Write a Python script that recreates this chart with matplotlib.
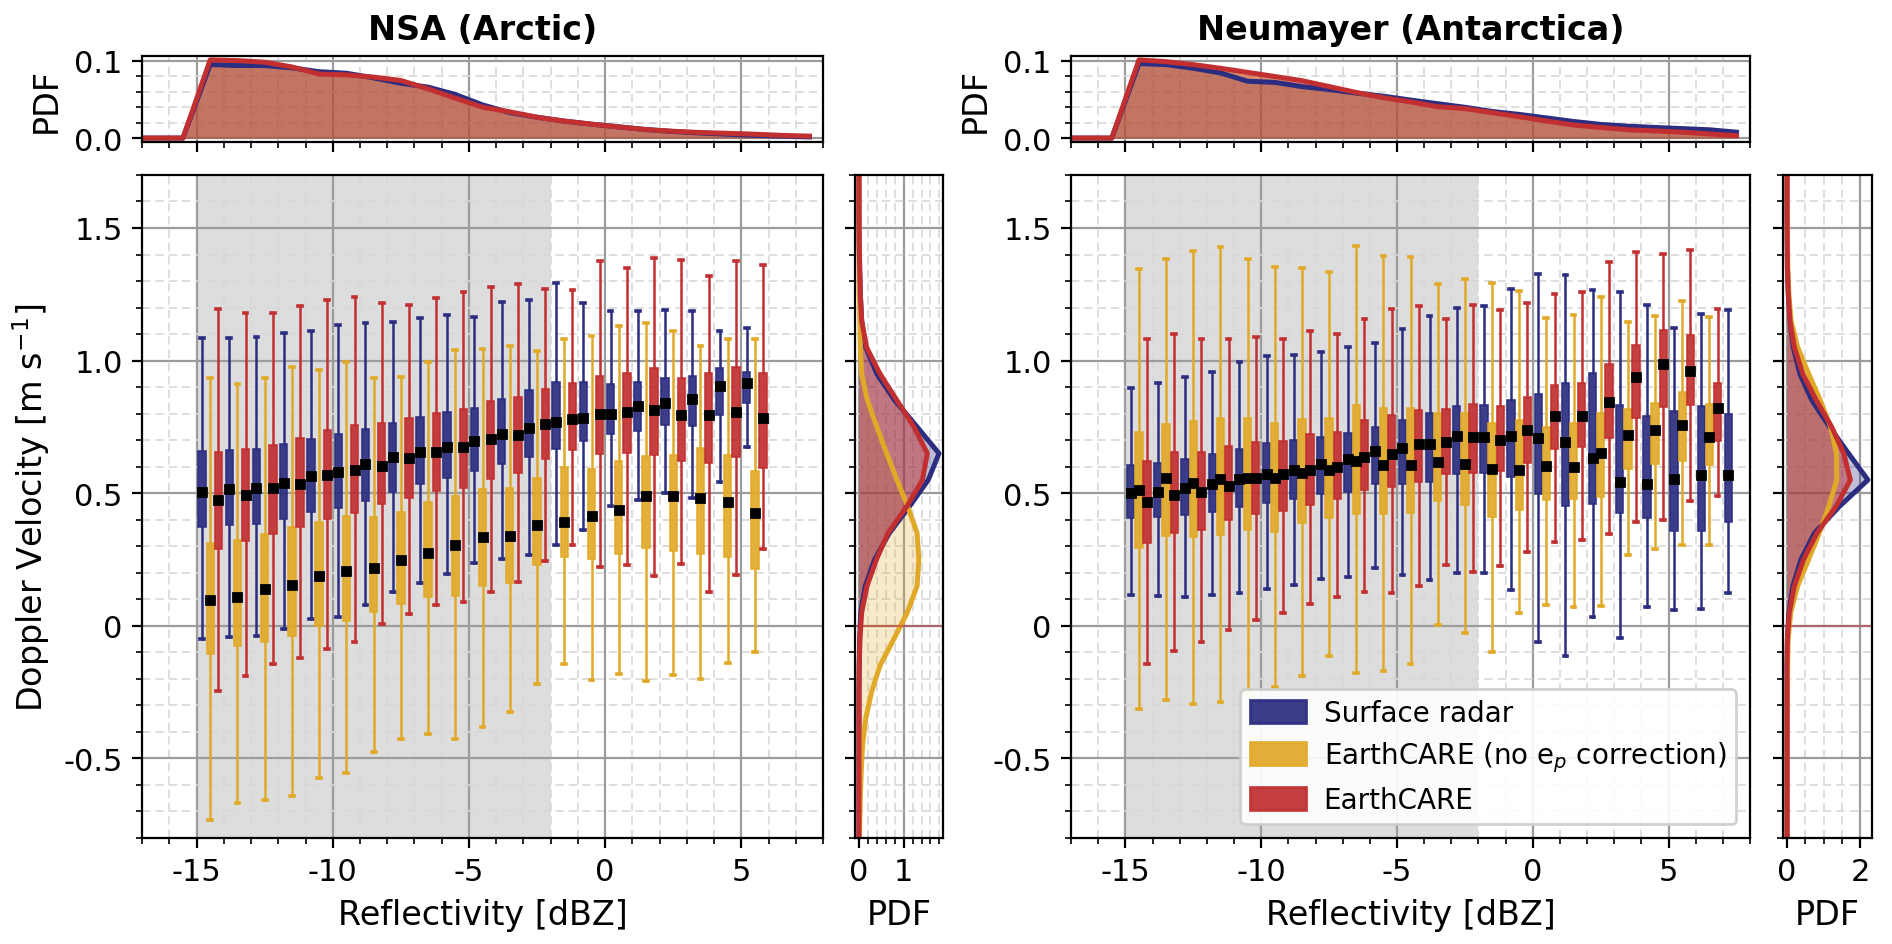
import numpy as np
import matplotlib
matplotlib.use("Agg")
import matplotlib.pyplot as plt
from matplotlib.ticker import MultipleLocator, AutoMinorLocator, FixedLocator
from matplotlib.patches import Patch

plt.rcParams['axes.unicode_minus'] = False
plt.rcParams['font.size'] = 11

# reflectivity bins (box groups) and PDF bin centres
bins_nsa = np.arange(-14.5, 6.0, 1.0)
bins_neu = np.arange(-14.5, 8.0, 1.0)
z_pdf = np.arange(-17.5, 8.0, 1.0)
v_pdf = np.arange(-0.85, 1.80, 0.1)

# boxplot rows: (whisker low, q1, median, q3, whisker high)
nsa_sfc = [
    (-0.050, 0.371, 0.504, 0.659, 1.084), (-0.041, 0.380, 0.515, 0.662, 1.084),
    (-0.038, 0.384, 0.519, 0.667, 1.090), (-0.013, 0.403, 0.538, 0.686, 1.105),
    (0.024, 0.428, 0.563, 0.703, 1.113), (0.033, 0.443, 0.580, 0.722, 1.136),
    (0.078, 0.469, 0.609, 0.742, 1.142), (0.128, 0.506, 0.636, 0.766, 1.146),
    (0.161, 0.533, 0.655, 0.786, 1.159), (0.194, 0.556, 0.675, 0.806, 1.171),
    (0.238, 0.585, 0.698, 0.822, 1.166), (0.251, 0.610, 0.723, 0.856, 1.222),
    (0.268, 0.635, 0.745, 0.888, 1.227), (0.303, 0.665, 0.770, 0.921, 1.293),
    (0.363, 0.695, 0.784, 0.921, 1.217), (0.453, 0.723, 0.800, 0.911, 1.186),
    (0.473, 0.735, 0.828, 0.921, 1.186), (0.501, 0.756, 0.840, 0.936, 1.189),
    (0.483, 0.754, 0.857, 0.942, 1.188), (0.542, 0.795, 0.906, 0.972, 1.111),
    (0.675, 0.842, 0.914, 0.957, 1.123),
]
nsa_noep = [
    (-0.732, -0.108, 0.098, 0.313, 0.936), (-0.670, -0.078, 0.108, 0.323, 0.911),
    (-0.655, -0.060, 0.138, 0.346, 0.936), (-0.641, -0.040, 0.155, 0.371, 0.974),
    (-0.575, 0.000, 0.189, 0.390, 0.965), (-0.555, 0.020, 0.208, 0.413, 0.995),
    (-0.477, 0.053, 0.219, 0.411, 0.936), (-0.425, 0.081, 0.248, 0.428, 0.940),
    (-0.409, 0.109, 0.275, 0.465, 0.995), (-0.425, 0.114, 0.303, 0.488, 1.039),
    (-0.382, 0.150, 0.333, 0.514, 1.045), (-0.325, 0.163, 0.339, 0.521, 1.054),
    (-0.219, 0.230, 0.379, 0.556, 1.038), (-0.144, 0.259, 0.390, 0.599, 1.083),
    (-0.204, 0.251, 0.414, 0.593, 1.091), (-0.181, 0.271, 0.436, 0.621, 1.131),
    (-0.208, 0.295, 0.491, 0.640, 1.141), (-0.185, 0.281, 0.488, 0.643, 1.110),
    (-0.200, 0.271, 0.483, 0.669, 1.055), (-0.140, 0.260, 0.468, 0.645, 1.080),
    (-0.100, 0.214, 0.425, 0.583, 1.083),
]
nsa_ec = [
    (-0.246, 0.290, 0.475, 0.656, 1.196), (-0.190, 0.319, 0.494, 0.667, 1.181),
    (-0.145, 0.346, 0.518, 0.681, 1.179), (-0.123, 0.374, 0.534, 0.709, 1.207),
    (-0.088, 0.403, 0.569, 0.737, 1.230), (-0.060, 0.426, 0.589, 0.758, 1.238),
    (0.006, 0.459, 0.604, 0.766, 1.217), (0.044, 0.483, 0.631, 0.785, 1.210),
    (0.078, 0.509, 0.656, 0.804, 1.236), (0.089, 0.521, 0.674, 0.819, 1.258),
    (0.126, 0.553, 0.705, 0.848, 1.276), (0.166, 0.578, 0.721, 0.864, 1.287),
    (0.244, 0.628, 0.761, 0.892, 1.270), (0.305, 0.663, 0.780, 0.914, 1.266),
    (0.221, 0.646, 0.799, 0.942, 1.374), (0.231, 0.650, 0.805, 0.955, 1.349),
    (0.186, 0.644, 0.813, 0.971, 1.387), (0.234, 0.621, 0.794, 0.933, 1.380),
    (0.126, 0.615, 0.795, 0.952, 1.318), (0.192, 0.637, 0.806, 0.975, 1.375),
    (0.290, 0.595, 0.783, 0.955, 1.360),
]
neu_sfc = [
    (0.117, 0.407, 0.499, 0.607, 0.895), (0.114, 0.412, 0.506, 0.613, 0.914),
    (0.110, 0.418, 0.521, 0.628, 0.938), (0.117, 0.430, 0.534, 0.646, 0.958),
    (0.122, 0.449, 0.553, 0.668, 0.993), (0.139, 0.462, 0.572, 0.688, 1.016),
    (0.154, 0.480, 0.588, 0.701, 1.023), (0.176, 0.496, 0.609, 0.713, 1.033),
    (0.183, 0.506, 0.630, 0.728, 1.052), (0.218, 0.534, 0.659, 0.750, 1.065),
    (0.191, 0.536, 0.672, 0.775, 1.120), (0.174, 0.544, 0.687, 0.801, 1.170),
    (0.198, 0.572, 0.716, 0.827, 1.198), (0.199, 0.578, 0.713, 0.834, 1.205),
    (0.134, 0.560, 0.716, 0.850, 1.270), (-0.062, 0.496, 0.707, 0.874, 1.328),
    (-0.112, 0.452, 0.694, 0.914, 1.322), (0.035, 0.459, 0.633, 0.952, 1.267),
    (-0.045, 0.426, 0.541, 0.831, 1.258), (0.071, 0.405, 0.533, 0.790, 1.208),
    (0.060, 0.357, 0.555, 0.809, 1.124), (0.063, 0.357, 0.568, 0.829, 1.176),
    (0.124, 0.390, 0.569, 0.799, 1.191),
]
neu_noep = [
    (-0.313, 0.292, 0.513, 0.732, 1.347), (-0.278, 0.339, 0.556, 0.762, 1.382),
    (-0.293, 0.334, 0.538, 0.772, 1.413), (-0.288, 0.344, 0.555, 0.782, 1.430),
    (-0.244, 0.362, 0.559, 0.782, 1.382), (-0.229, 0.352, 0.559, 0.766, 1.353),
    (-0.191, 0.387, 0.578, 0.781, 1.348), (-0.112, 0.407, 0.588, 0.782, 1.333),
    (-0.179, 0.421, 0.622, 0.831, 1.431), (-0.171, 0.420, 0.605, 0.820, 1.396),
    (-0.144, 0.427, 0.608, 0.822, 1.390), (0.004, 0.471, 0.618, 0.804, 1.288),
    (-0.027, 0.457, 0.609, 0.804, 1.308), (-0.097, 0.412, 0.590, 0.766, 1.292),
    (0.048, 0.436, 0.587, 0.776, 1.264), (0.078, 0.474, 0.602, 0.751, 1.159),
    (0.072, 0.477, 0.600, 0.763, 1.171), (0.076, 0.487, 0.652, 0.801, 1.238),
    (0.268, 0.592, 0.718, 0.817, 1.144), (0.290, 0.609, 0.740, 0.841, 1.168),
    (0.303, 0.622, 0.757, 0.883, 1.226), (0.303, 0.607, 0.712, 0.836, 1.165),
    None,
]
neu_ec = [
    (-0.145, 0.311, 0.465, 0.622, 1.083), (-0.095, 0.351, 0.494, 0.654, 1.101),
    (-0.062, 0.362, 0.503, 0.657, 1.083), (-0.016, 0.398, 0.528, 0.678, 1.083),
    (0.022, 0.421, 0.558, 0.694, 1.090), (0.048, 0.433, 0.572, 0.697, 1.083),
    (0.082, 0.456, 0.589, 0.725, 1.112), (0.109, 0.477, 0.600, 0.732, 1.101),
    (0.129, 0.511, 0.638, 0.775, 1.156), (0.124, 0.524, 0.649, 0.794, 1.194),
    (0.151, 0.544, 0.684, 0.812, 1.205), (0.229, 0.574, 0.694, 0.816, 1.155),
    (0.204, 0.578, 0.712, 0.838, 1.211), (0.224, 0.582, 0.702, 0.827, 1.190),
    (0.280, 0.615, 0.737, 0.864, 1.219), (0.317, 0.668, 0.791, 0.907, 1.250),
    (0.323, 0.674, 0.791, 0.915, 1.260), (0.346, 0.707, 0.843, 0.987, 1.372),
    (0.390, 0.782, 0.940, 1.057, 1.408), (0.398, 0.825, 0.988, 1.114, 1.402),
    (0.472, 0.832, 0.959, 1.098, 1.417), (0.490, 0.696, 0.820, 0.917, 1.194),
    None,
]

# reflectivity PDFs (top panels); e_p correction does not change Z
nsa_zpdf_sfc = [0, 0, 0, 0.0953, 0.094, 0.094, 0.091, 0.086, 0.084, 0.078, 0.071, 0.066, 0.0565,
                0.043, 0.033, 0.027, 0.022, 0.018, 0.0145, 0.011, 0.0085, 0.0065, 0.005, 0.0035,
                0.0025, 0.0015]
nsa_zpdf_ec = [0, 0, 0, 0.1013, 0.1004, 0.0983, 0.0922, 0.083, 0.0819, 0.079, 0.0746, 0.0638,
               0.0517, 0.040, 0.034, 0.027, 0.022, 0.018, 0.0145, 0.011, 0.0088, 0.0072, 0.0062,
               0.005, 0.0035, 0.0025]
neu_zpdf_sfc = [0, 0, 0, 0.096, 0.0947, 0.090, 0.084, 0.0733, 0.0718, 0.0664, 0.0626, 0.058,
                0.054, 0.049, 0.0443, 0.0397, 0.0343, 0.0305, 0.026, 0.0214, 0.0176, 0.0153,
                0.0137, 0.0122, 0.0107, 0.0076]
neu_zpdf_ec = [0, 0, 0, 0.1008, 0.0985, 0.0947, 0.090, 0.0847, 0.0794, 0.074, 0.0664, 0.0588,
               0.052, 0.0466, 0.0405, 0.038, 0.0328, 0.0275, 0.022, 0.0168, 0.0137, 0.0107,
               0.0092, 0.0076, 0.0053, 0.003]

# Doppler velocity PDFs (side panels), at v_pdf
nsa_vpdf_sfc = [0, 0, 0, 0, 0, 0, 0, 0.005, 0.015, 0.04, 0.14, 0.35, 0.68, 1.13, 1.55, 1.79,
                1.30, 0.80, 0.40, 0.15, 0.06, 0.03, 0.015, 0.005, 0, 0, 0]
nsa_vpdf_noep = [0.005, 0.015, 0.03, 0.05, 0.08, 0.15, 0.28, 0.47, 0.78, 1.08, 1.30, 1.34, 1.30,
                 1.09, 0.85, 0.62, 0.40, 0.19, 0.06, 0.03, 0.02, 0.008, 0.003, 0, 0, 0, 0]
nsa_vpdf_ec = [0, 0, 0, 0, 0, 0, 0, 0.005, 0.02, 0.06, 0.18, 0.39, 0.65, 1.07, 1.42, 1.53,
               1.23, 0.85, 0.47, 0.17, 0.06, 0.03, 0.015, 0.005, 0, 0, 0]
neu_vpdf_sfc = [0, 0, 0, 0, 0, 0, 0, 0, 0.01, 0.05, 0.16, 0.38, 0.75, 1.43, 2.21, 1.68, 1.16,
                0.68, 0.35, 0.17, 0.08, 0.035, 0.01, 0.005, 0, 0, 0]
neu_vpdf_noep = [0, 0, 0, 0, 0, 0, 0.005, 0.015, 0.03, 0.10, 0.29, 0.59, 0.88, 1.14, 1.36, 1.35,
                 1.19, 0.91, 0.59, 0.29, 0.11, 0.05, 0.02, 0.008, 0.002, 0, 0]
neu_vpdf_ec = [0, 0, 0, 0, 0, 0, 0, 0, 0.01, 0.06, 0.20, 0.45, 0.82, 1.34, 1.73, 1.55, 1.22,
               0.80, 0.43, 0.20, 0.08, 0.035, 0.01, 0.005, 0, 0, 0]

c_sfc = '#2b2d80'
c_noep = '#e1a928'
c_ec = '#c12f30'
labels = ['Surface radar', 'EarthCARE (no e$_p$ correction)', 'EarthCARE']


def style_grid(ax):
    ax.set_axisbelow(True)
    ax.grid(True, which='major', color='#9c9c9c', lw=0.8)
    ax.grid(True, which='minor', color='#d8d8d8', lw=0.6, ls=(0, (5, 3)))
    ax.tick_params(which='major', direction='out', length=3.5, width=0.8, labelsize=11)
    ax.tick_params(which='minor', direction='out', length=2, width=0.6)


def draw_boxes(ax, centers, rows, offset, color):
    stats, pos = [], []
    for c, r in zip(centers, rows):
        if r is None:
            continue
        lo, q1, med, q3, hi = r
        stats.append(dict(whislo=lo, q1=q1, med=med, q3=q3, whishi=hi, mean=med, fliers=[]))
        pos.append(c + offset)
    ax.bxp(stats, positions=pos, widths=0.27, patch_artist=True, showmeans=True,
           showfliers=False, capwidths=0.14, manage_ticks=False,
           boxprops=dict(facecolor=color, edgecolor=color, alpha=0.92, lw=0.6),
           whiskerprops=dict(color=color, lw=0.9),
           capprops=dict(color=color, lw=1.3),
           medianprops=dict(visible=False),
           meanprops=dict(marker='s', markerfacecolor='k', markeredgecolor='k',
                          markersize=2.6))


def panel(rect_top, rect_main, rect_side, title, centers, rows, zpdf, vpdf, side_step,
          ylabel, legend):
    ax = fig.add_axes(rect_main)
    axt = fig.add_axes(rect_top, sharex=ax)
    axs = fig.add_axes(rect_side, sharey=ax)

    # main: boxplots
    ax.axvspan(-15, -2, color='#dddddd', zorder=0, lw=0)
    draw_boxes(ax, centers, rows[0], -0.3, c_sfc)
    draw_boxes(ax, centers, rows[1], 0.0, c_noep)
    draw_boxes(ax, centers, rows[2], 0.3, c_ec)
    ax.set_xlim(-17, 8)
    ax.set_ylim(-0.8, 1.7)
    ax.xaxis.set_major_locator(MultipleLocator(5))
    ax.xaxis.set_minor_locator(AutoMinorLocator(5))
    ax.yaxis.set_major_locator(FixedLocator([-0.5, 0, 0.5, 1.0, 1.5]))
    ax.set_yticklabels(['-0.5', '0', '0.5', '1.0', '1.5'])
    ax.yaxis.set_minor_locator(AutoMinorLocator(5))
    ax.set_xlabel('Reflectivity [dBZ]', fontsize=12)
    if ylabel:
        ax.set_ylabel('Doppler Velocity [m s$^{-1}$]', fontsize=12)
    style_grid(ax)
    if legend:
        handles = [Patch(facecolor=c, edgecolor=c, alpha=0.92) for c in (c_sfc, c_noep, c_ec)]
        ax.legend(handles, labels, loc='lower right', fontsize=10, handlelength=2.0,
                  handleheight=0.9, labelspacing=0.45, handletextpad=0.65,
                  borderpad=0.35, framealpha=0.9)

    # top: reflectivity PDF
    for y, c, a in ((zpdf[0], c_sfc, 0.35), (zpdf[1], c_noep, 0.4), (zpdf[1], c_ec, 0.45)):
        axt.fill_between(z_pdf, 0, y, color=c, alpha=a, lw=0)
    axt.plot(z_pdf, zpdf[0], color=c_sfc, lw=1.8)
    axt.plot(z_pdf, zpdf[1], color=c_ec, lw=1.8)
    axt.yaxis.set_major_locator(MultipleLocator(0.1))
    axt.yaxis.set_minor_locator(AutoMinorLocator(5))
    axt.tick_params(labelbottom=False)
    axt.set_ylabel('PDF', fontsize=12)
    axt.set_title(title, fontweight='bold', fontsize=12)
    style_grid(axt)
    axt.set_xlim(-17, 8)

    # side: velocity PDF
    for x, c, a in ((vpdf[1], c_noep, 0.25), (vpdf[0], c_sfc, 0.3), (vpdf[2], c_ec, 0.5)):
        axs.fill_betweenx(v_pdf, 0, x, color=c, alpha=a, lw=0)
    axs.plot(vpdf[0], v_pdf, color=c_sfc, lw=1.8)
    axs.plot(vpdf[1], v_pdf, color=c_noep, lw=1.8)
    axs.plot(vpdf[2], v_pdf, color=c_ec, lw=1.8)
    axs.axhline(0, color=c_ec, alpha=0.5, lw=0.8)
    axs.xaxis.set_major_locator(MultipleLocator(side_step))
    axs.xaxis.set_minor_locator(AutoMinorLocator())
    axs.tick_params(labelleft=False)
    axs.set_xlabel('PDF', fontsize=12)
    style_grid(axs)
    axs.set_ylim(-0.8, 1.7)
    return ax


fig = plt.figure(figsize=(9.46, 4.725), dpi=200)

panel([0.0751, 0.8487, 0.3599, 0.091], [0.0751, 0.1122, 0.3599, 0.7016],
      [0.4519, 0.1122, 0.0465, 0.7016], 'NSA (Arctic)', bins_nsa,
      (nsa_sfc, nsa_noep, nsa_ec), (nsa_zpdf_sfc, nsa_zpdf_ec),
      (nsa_vpdf_sfc, nsa_vpdf_noep, nsa_vpdf_ec), 1, True, False)

panel([0.5661, 0.8487, 0.3589, 0.091], [0.5661, 0.1122, 0.3589, 0.7016],
      [0.9424, 0.1122, 0.0470, 0.7016], 'Neumayer (Antarctica)', bins_neu,
      (neu_sfc, neu_noep, neu_ec), (neu_zpdf_sfc, neu_zpdf_ec),
      (neu_vpdf_sfc, neu_vpdf_noep, neu_vpdf_ec), 2, False, True)

fig.savefig('out.png', dpi=200)
